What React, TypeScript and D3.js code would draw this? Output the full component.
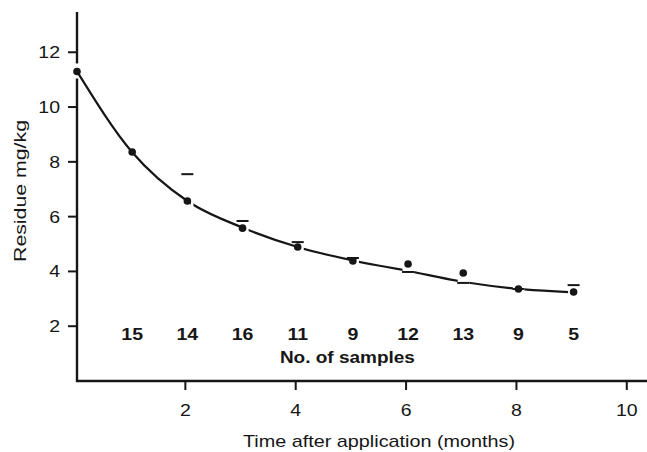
import React from "react";
import * as d3 from "d3";

const months = [0, 1, 2, 3, 4, 5, 6, 7, 8, 9];
const meanResidue = [11.3, 8.36, 6.57, 5.58, 4.89, 4.38, 4.27, 3.94, 3.36, 3.25];
const fittedCurve = [11.3, 8.35, 6.57, 5.6, 4.89, 4.4, 4.02, 3.62, 3.36, 3.24];
const dashMonths = [2, 3, 4, 5, 6, 7, 8, 9];
const dashResidue = [7.55, 5.84, 5.07, 4.49, 3.98, 3.58, 3.36, 3.5];
const sampleMonths = [1, 2, 3, 4, 5, 6, 7, 8, 9];
const sampleCounts = [15, 14, 16, 11, 9, 12, 13, 9, 5];
const xTicks = [2, 4, 6, 8, 10];
const yTicks = [2, 4, 6, 8, 10, 12];

const W = 647;
const H = 452;
const FONT = "'Liberation Sans', Arial, Helvetica, sans-serif";
const INK = "#161616";
const SX = 1.22;

function Txt(props: {
  x: number;
  y: number;
  anchor?: string;
  size?: number;
  bold?: boolean;
  rotate?: number;
  len?: number;
  children: React.ReactNode;
}) {
  const { x, y, anchor = "middle", size = 16, bold = false, rotate = 0, len, children } = props;
  return (
    <text
      transform={`translate(${x},${y}) rotate(${rotate}) scale(${SX},1)`}
      textAnchor={anchor}
      fontSize={size}
      fontWeight={bold ? "bold" : "normal"}
      fill={INK}
      textLength={len ? len / SX : undefined}
      lengthAdjust={len ? "spacingAndGlyphs" : undefined}
    >
      {children}
    </text>
  );
}

export default function App() {
  const x = d3.scaleLinear().domain([0, 10.33]).range([77, 647]);
  const y = d3.scaleLinear().domain([0, 13.47]).range([381, 12]);

  const pts: [number, number][] = months.map((m, i) => [m, fittedCurve[i]]);
  const line = d3
    .line<[number, number]>()
    .x((d) => x(d[0]))
    .y((d) => y(d[1]))
    .curve(d3.curveMonotoneX);

  const fullPath = line(pts) || "";
  const segments: [number, number][] = [[0, 2.06]];
  for (let k = 2; k < 9; k++) {
    const endGap = k >= 5 ? 0.1 : 0.0;
    segments.push([k + 0.11, k + 1 - endGap]);
  }
  const y0dot = y(meanResidue[0]);

  return (
    <svg
      width={W}
      height={H}
      style={{ position: "absolute", left: 0, top: 0, background: "#fff" }}
      fontFamily={FONT}
    >
      <defs>
        {segments.map((s, i) => (
          <clipPath id={`seg${i}`} key={i}>
            <rect x={x(s[0])} y={0} width={x(s[1]) - x(s[0])} height={H} />
          </clipPath>
        ))}
      </defs>
      {/* axes (y axis interrupted around the first point) */}
      <line x1={77} x2={77} y1={y(13.47)} y2={y0dot - 8} stroke={INK} strokeWidth={2.4} />
      <line x1={77} x2={77} y1={y0dot + 7} y2={y(0) + 1} stroke={INK} strokeWidth={2.4} />
      <line x1={76} x2={W} y1={y(0)} y2={y(0)} stroke={INK} strokeWidth={2.4} />
      {yTicks.map((t) => (
        <g key={`y${t}`}>
          <line x1={68} x2={77} y1={y(t)} y2={y(t)} stroke={INK} strokeWidth={2} />
          <Txt x={60} y={y(t) + 6} anchor="end">
            {t}
          </Txt>
        </g>
      ))}
      {xTicks.map((t) => (
        <g key={`x${t}`}>
          <line x1={x(t) - 2} x2={x(t) - 2} y1={y(0)} y2={y(0) + 9} stroke={INK} strokeWidth={2} />
          <Txt x={x(t) - 2} y={416}>
            {t}
          </Txt>
        </g>
      ))}
      <Txt x={379} y={447} len={272}>
        Time after application (months)
      </Txt>
      <Txt x={26} y={191} rotate={-90} size={17} len={142}>
        Residue mg/kg
      </Txt>

      {/* fitted curve */}
      {segments.map((s, i) => (
        <path
          key={`c${i}`}
          d={fullPath}
          fill="none"
          stroke={INK}
          strokeWidth={2.2}
          clipPath={`url(#seg${i})`}
        />
      ))}

      {/* dashes */}
      {dashMonths.map((m, i) => (
        <line
          key={`d${m}`}
          x1={x(m) - 6}
          x2={x(m) + 6}
          y1={y(dashResidue[i])}
          y2={y(dashResidue[i])}
          stroke={INK}
          strokeWidth={2}
        />
      ))}

      {/* mean points */}
      {months.map((m, i) => (
        <circle key={`p${m}`} cx={x(m)} cy={y(meanResidue[i])} r={3.8} fill={INK} />
      ))}

      {/* sample counts */}
      {sampleMonths.map((m, i) => (
        <Txt key={`n${m}`} x={x(m)} y={y(1.5)} bold>
          {sampleCounts[i]}
        </Txt>
      ))}
      <Txt x={x(4.9)} y={363} bold len={135}>
        No. of samples
      </Txt>
    </svg>
  );
}
